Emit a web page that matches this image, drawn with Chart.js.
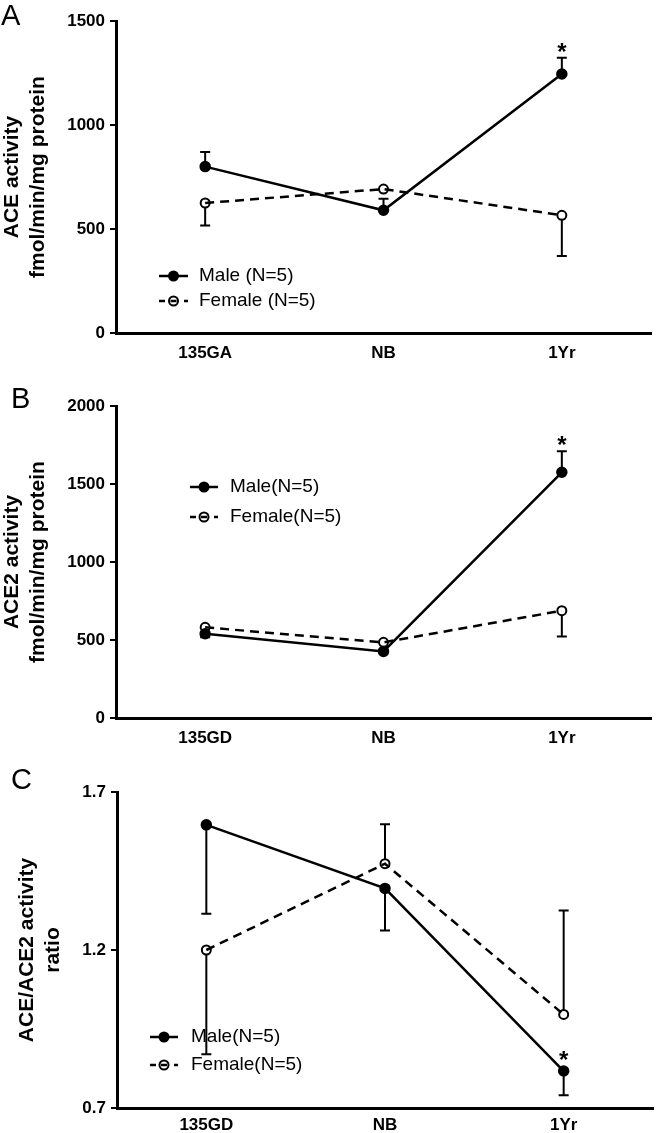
<!DOCTYPE html>
<html lang="en">
<head>
  <meta charset="UTF-8" />
  <title>ACE / ACE2 activity</title>
  <script src="https://cdn.jsdelivr.net/npm/chart.js"></script>
  <style>
    * { box-sizing: border-box; margin: 0; padding: 0; }
    body { background: #fff; width: 660px; height: 1133px; position: relative; overflow: hidden; }
    .panel { position: absolute; left: 0; width: 660px; }
    .panel canvas { display: block; }
    .letter {
      position: absolute;
      font-family: 'Liberation Sans', Arial, sans-serif;
      font-size: 29px;
      color: #000;
      line-height: 1;
    }
  </style>
</head>
<body>

  <div class="panel" style="top:0;height:370px"><canvas id="chartA" width="660" height="370"></canvas></div>
  <div class="panel" style="top:370px;height:380px"><canvas id="chartB" width="660" height="380"></canvas></div>
  <div class="panel" style="top:750px;height:383px"><canvas id="chartC" width="660" height="383"></canvas></div>

  <div class="letter" style="left:1px;top:1px">A</div>
  <div class="letter" style="left:11px;top:384px">B</div>
  <div class="letter" style="left:11px;top:765px">C</div>

  <script>
    // categories
    const catsA = ['135GA', 'NB', '1Yr'];
    const catsBC = ['135GD', 'NB', '1Yr'];

    // panel A - ACE activity
    const maleA = [800, 590, 1245];
    const maleA_up = [70, 55, 78];
    const maleA_down = [0, 0, 0];
    const femaleA = [625, 692, 566];
    const femaleA_up = [0, 0, 0];
    const femaleA_down = [108, 0, 196];
    const ticksA = [0, 500, 1000, 1500];

    // panel B - ACE2 activity
    const maleB = [540, 427, 1575];
    const maleB_up = [0, 0, 135];
    const maleB_down = [22, 0, 0];
    const femaleB = [581, 485, 688];
    const femaleB_up = [0, 0, 0];
    const femaleB_down = [0, 0, 165];
    const ticksB = [0, 500, 1000, 1500, 2000];

    // panel C - ACE/ACE2 ratio
    const maleC = [1.596, 1.395, 0.817];
    const maleC_up = [0, 0, 0];
    const maleC_down = [0.281, 0.133, 0.077];
    const femaleC = [1.2, 1.473, 0.996];
    const femaleC_up = [0, 0.125, 0.329];
    const femaleC_down = [0.33, 0, 0];
    const ticksC = [0.7, 1.2, 1.7];

    const sigIndex = 2; // asterisk on male 1Yr

    const FONT = "'Liberation Sans', Arial, sans-serif";

    // error bars, asterisk and legend drawn from the data + scales
    const extras = {
      id: 'extras',
      beforeDatasetsDraw(chart) {
        const ctx = chart.ctx;
        const xs = chart.scales.x, ys = chart.scales.y;
        ctx.save();
        ctx.strokeStyle = '#000';
        ctx.lineWidth = 2;
        chart.data.datasets.forEach(ds => {
          ds.data.forEach((v, i) => {
            const x = xs.getPixelForValue(i);
            [[ds.errUp[i], 1], [ds.errDown[i], -1]].forEach(([e, dir]) => {
              if (!e) return;
              const y0 = ys.getPixelForValue(v) - dir * 4.5;
              const y1 = ys.getPixelForValue(v + dir * e);
              ctx.beginPath();
              ctx.moveTo(x, y0); ctx.lineTo(x, y1);
              ctx.moveTo(x - 5, y1); ctx.lineTo(x + 5, y1);
              ctx.stroke();
            });
          });
        });
        ctx.restore();
      },
      afterDatasetsDraw(chart, args, opts) {
        const ctx = chart.ctx;
        const xs = chart.scales.x, ys = chart.scales.y;
        const male = chart.data.datasets[0];
        ctx.save();
        // asterisk
        const i = sigIndex;
        const top = Math.min(ys.getPixelForValue(male.data[i] + male.errUp[i]), ys.getPixelForValue(male.data[i]) - 5);
        ctx.fillStyle = '#000';
        ctx.font = 'bold 24px ' + FONT;
        ctx.textAlign = 'center';
        ctx.textBaseline = 'alphabetic';
        ctx.fillText('*', xs.getPixelForValue(i), top + 2);

        // legend
        ctx.font = '19px ' + FONT;
        ctx.textAlign = 'left';
        ctx.textBaseline = 'middle';
        chart.data.datasets.forEach((ds, k) => {
          const y = opts.y[k];
          const mid = (opts.x1 + opts.x2) / 2;
          ctx.strokeStyle = '#000';
          ctx.lineWidth = 2.5;
          ctx.beginPath();
          if (ds.borderDash) {
            ctx.moveTo(opts.x1, y); ctx.lineTo(opts.x1 + 6, y);
            ctx.moveTo(mid - 3, y); ctx.lineTo(mid + 3, y);
            ctx.moveTo(opts.x2 - 4, y); ctx.lineTo(opts.x2, y);
          } else {
            ctx.moveTo(opts.x1, y); ctx.lineTo(opts.x2, y);
          }
          ctx.stroke();
          ctx.beginPath();
          ctx.arc(mid, y, 4.5, 0, Math.PI * 2);
          if (!ds.borderDash) {
            ctx.fillStyle = '#000';
            ctx.fill();
          }
          ctx.lineWidth = 2;
          ctx.stroke();
          ctx.fillStyle = '#000';
          ctx.fillText(ds.label, opts.tx, y);
        });
        ctx.restore();
      }
    };

    function makeChart(id, cats, m, mUp, mDown, f, fUp, fDown, tickVals, box, title, legend) {
      const fixedTicks = s => { s.ticks = tickVals.map(v => ({ value: v })); };
      return new Chart(document.getElementById(id), {
        type: 'line',
        data: {
          labels: cats,
          datasets: [
            {
              label: legend.labels[0],
              data: m, errUp: mUp, errDown: mDown,
              borderColor: '#000', borderWidth: 2.5,
              pointRadius: 4.5, pointBackgroundColor: '#000', pointBorderColor: '#000',
              tension: 0, clip: false
            },
            {
              label: legend.labels[1],
              data: f, errUp: fUp, errDown: fDown,
              borderColor: '#000', borderWidth: 2.5, borderDash: [9, 6],
              pointRadius: 4.5, pointBackgroundColor: 'rgba(255,255,255,0)', pointBorderColor: '#000', pointBorderWidth: 2,
              tension: 0, clip: false
            }
          ]
        },
        options: {
          responsive: false,
          animation: false,
          events: [],
          layout: { padding: { left: 0, top: box.top, right: box.right, bottom: 0 } },
          plugins: {
            legend: { display: false },
            tooltip: { enabled: false },
            extras: legend
          },
          scales: {
            x: {
              type: 'category',
              offset: true,
              grid: { display: false, drawTicks: false },
              border: { display: true, color: '#000', width: 3 },
              ticks: { color: '#000', font: { family: FONT, size: 17, weight: 'bold' }, padding: box.xpad },
              afterFit: s => { s.height = box.xh; }
            },
            y: {
              min: tickVals[0],
              max: tickVals[tickVals.length - 1],
              afterBuildTicks: fixedTicks,
              grid: { display: true, drawOnChartArea: false, drawTicks: true, tickLength: 6, color: '#000', lineWidth: 2 },
              border: { display: true, color: '#000', width: 3 },
              ticks: {
                color: '#000', padding: 5,
                font: { family: FONT, size: 17, weight: 'bold' },
                callback: v => box.dec ? v.toFixed(box.dec) : String(v)
              },
              title: {
                display: true, text: title, color: '#000',
                font: { family: FONT, size: 21, weight: 'bold', lineHeight: 1.2 },
                padding: { top: box.tpad, bottom: 0 }
              },
              afterFit: s => { s.width = box.left; }
            }
          }
        },
        plugins: [extras]
      });
    }

    makeChart('chartA', catsA, maleA, maleA_up, maleA_down, femaleA, femaleA_up, femaleA_down, ticksA,
      { left: 116, top: 21, right: 9, xh: 37, xpad: 10, tpad: 0, dec: 0 },
      ['ACE activity', 'fmol/min/mg protein'],
      { labels: ['Male (N=5)', 'Female (N=5)'], x1: 159, x2: 188, tx: 199, y: [276, 301] });

    makeChart('chartB', catsBC, maleB, maleB_up, maleB_down, femaleB, femaleB_up, femaleB_down, ticksB,
      { left: 116, top: 36, right: 9, xh: 32, xpad: 10, tpad: 0, dec: 0 },
      ['ACE2 activity', 'fmol/min/mg protein'],
      { labels: ['Male(N=5)', 'Female(N=5)'], x1: 190, x2: 218, tx: 230, y: [117, 147] });

    makeChart('chartC', catsBC, maleC, maleC_up, maleC_down, femaleC, femaleC_up, femaleC_down, ticksC,
      { left: 117, top: 42, right: 0, xh: 25, xpad: 7, tpad: 15, dec: 1 },
      ['ACE/ACE2 activity', 'ratio'],
      { labels: ['Male(N=5)', 'Female(N=5)'], x1: 150, x2: 178, tx: 191, y: [287, 315] });
  </script>

</body>
</html>
